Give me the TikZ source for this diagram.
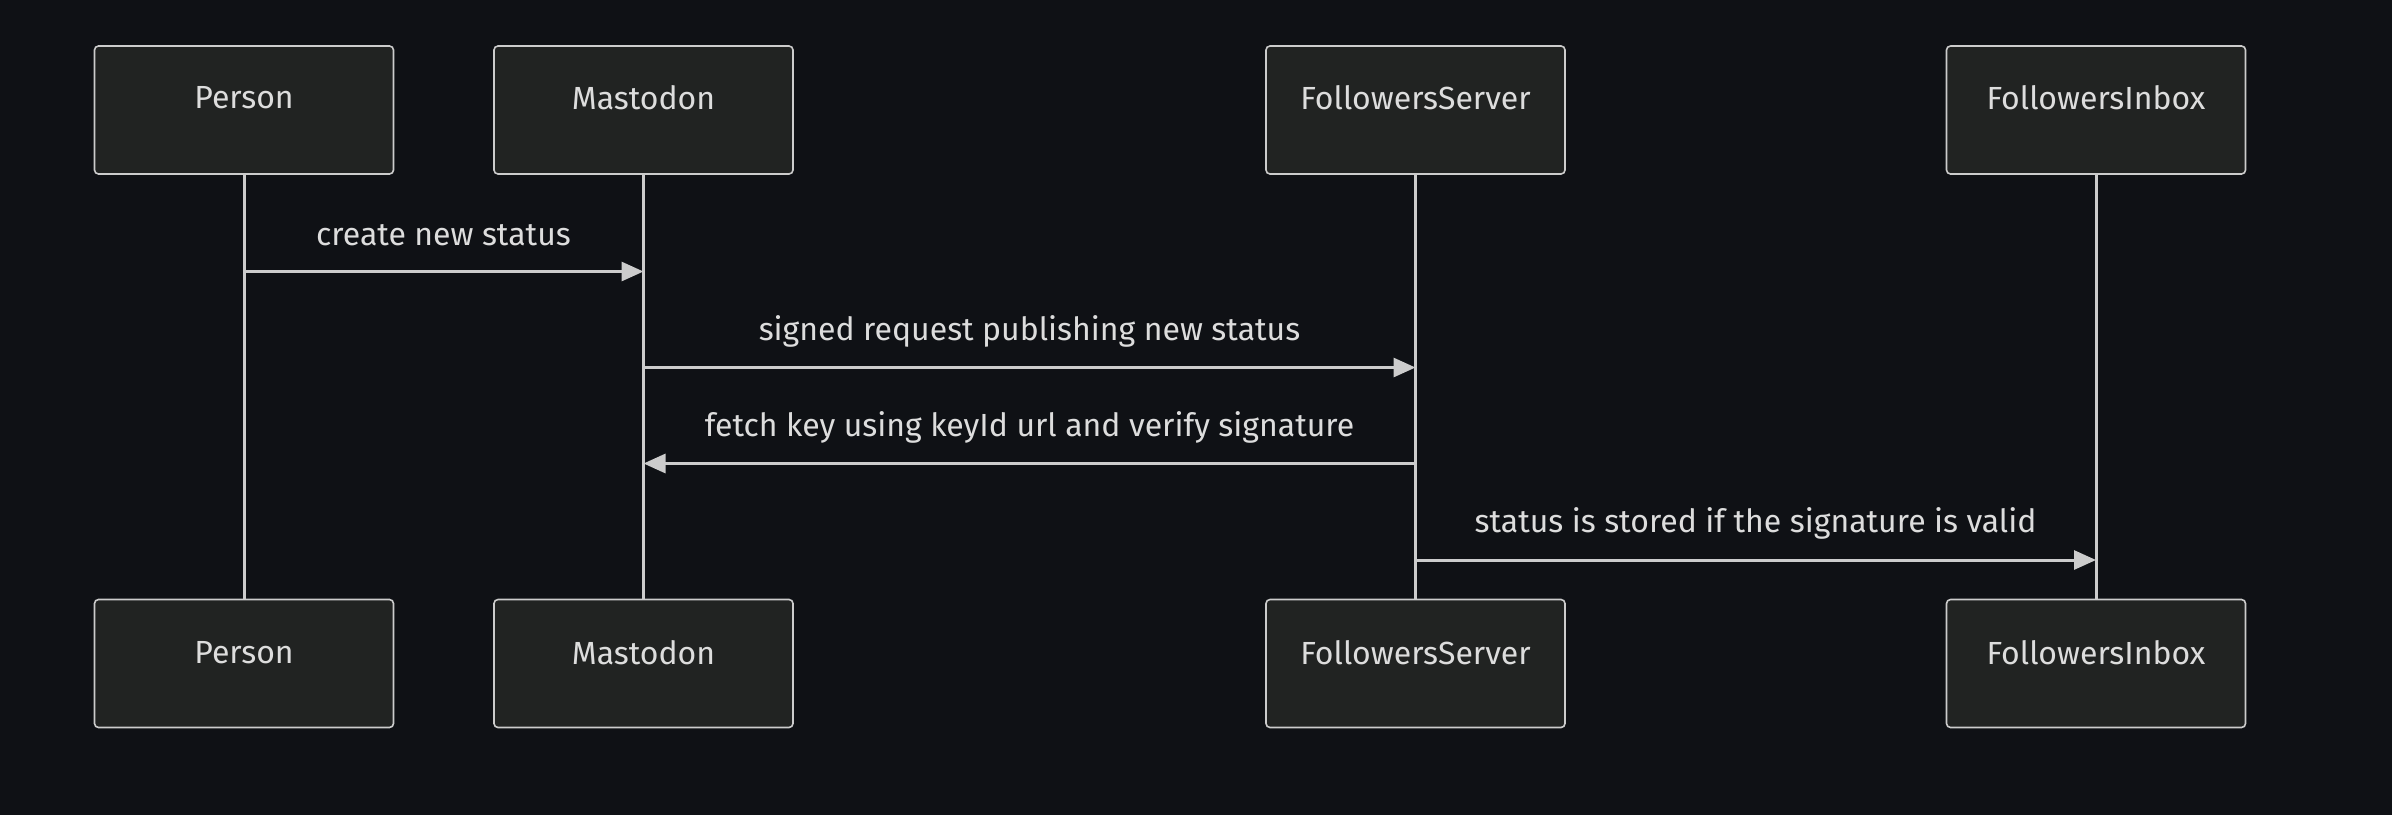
\documentclass[tikz,border=0pt]{standalone}
\usepackage{fontspec}
\setmainfont{Fira Sans}
\usetikzlibrary{arrows.meta}
\definecolor{bg}{HTML}{0F1115}
\definecolor{boxfill}{HTML}{212322}
\definecolor{ln}{HTML}{CCCCCC}
\definecolor{tx}{HTML}{DDDDDD}
\begin{document}
\begin{tikzpicture}[x=1pt,y=-1pt,
  actor/.style={draw=ln,fill=boxfill,line width=1.6pt,rounded corners=4pt,minimum width=299pt,minimum height=128pt,inner sep=0pt},
  atext/.style={text=tx,font=\fontsize{32}{38}\selectfont,anchor=center},
  life/.style={draw=ln,line width=3pt},
  msg/.style={draw=ln,line width=3pt,-{Triangle[length=22pt,width=19pt]}},
  mlabel/.style={text=tx,font=\fontsize{32}{38}\selectfont,anchor=center}]
\useasboundingbox (0,0) rectangle (2392,814);
\fill[bg] (-5,-5) rectangle (2397,819);
% top actors
\node[actor] (pT) at (244,110) {};
\node[actor] (mT) at (643.5,110) {};
\node[actor] (sT) at (1415.5,110) {};
\node[actor] (iT) at (2096,110) {};
\node[actor] (pB) at (244,663.5) {};
\node[actor] (mB) at (643.5,663.5) {};
\node[actor] (sB) at (1415.5,663.5) {};
\node[actor] (iB) at (2096,663.5) {};
% lifelines
\draw[life] (pT.south) -- (pB.north);
\draw[life] (mT.south) -- (mB.north);
\draw[life] (sT.south) -- (sB.north);
\draw[life] (iT.south) -- (iB.north);
% actor labels
\node[atext] (pTl) at (244,98) {Person};
\node[atext] (mTl) at (643.5,98) {Mastodon};
\node[atext] (sTl) at (1415.5,98) {FollowersServer};
\node[atext] (iTl) at (2096,98) {FollowersInbox};
\node[atext] (pBl) at (244,653) {Person};
\node[atext] (mBl) at (643.5,653) {Mastodon};
\node[atext] (sBl) at (1415.5,653) {FollowersServer};
\node[atext] (iBl) at (2096,653) {FollowersInbox};
% messages
\coordinate (m1a) at (244,271.5); \coordinate (m1b) at (643.5,271.5);
\coordinate (m2a) at (643.5,367.5); \coordinate (m2b) at (1415.5,367.5);
\coordinate (m3a) at (1415.5,463.5); \coordinate (m3b) at (643.5,463.5);
\coordinate (m4a) at (1415.5,560); \coordinate (m4b) at (2096,560);
\draw[msg] (m1a) -- (m1b);
\draw[msg] (m2a) -- (m2b);
\draw[msg] (m3a) -- (m3b);
\draw[msg] (m4a) -- (m4b);
\node[mlabel] (l1) at (443.5,235) {create new status};
\node[mlabel] (l2) at (1029.5,331) {signed request publishing new status};
\node[mlabel] (l3) at (1029.5,427) {fetch key using keyId url and verify signature};
\node[mlabel] (l4) at (1755.5,523) {status is stored if the signature is valid};
\end{tikzpicture}
\end{document}
